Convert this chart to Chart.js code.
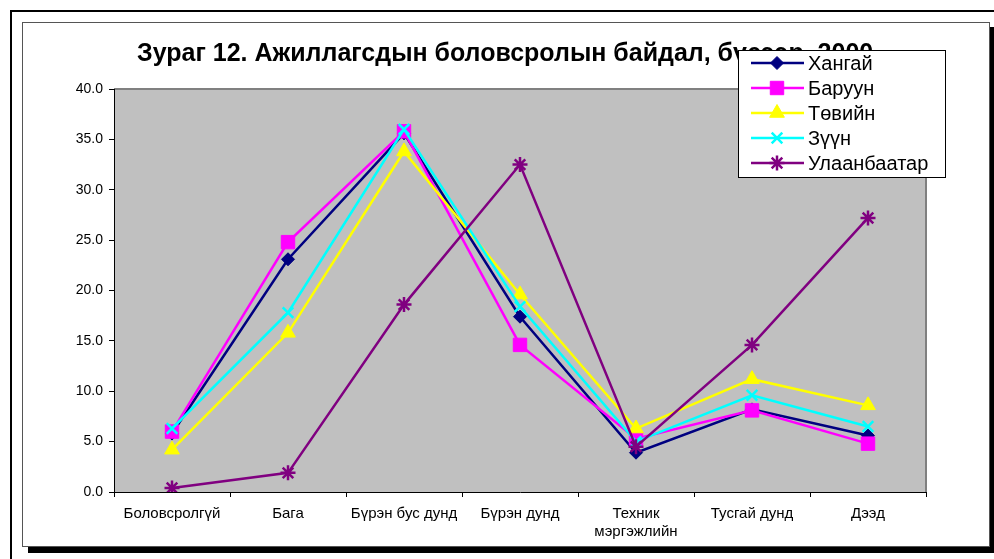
<!DOCTYPE html>
<html>
<head>
<meta charset="utf-8">
<script src="https://cdn.jsdelivr.net/npm/chart.js@4.4.1/dist/chart.umd.min.js"></script>
<style>
html,body{margin:0;padding:0;background:#fff;}
#wrap{width:994px;height:559px;position:relative;}
</style>
</head>
<body>
<div id="wrap"><canvas id="c" width="994" height="559"></canvas></div>
<script>
const titleText = "Зураг 12. Ажиллагсдын боловсролын байдал, бүсээр, 2000";
const categories = ["Боловсролгүй", "Бага", "Бүрэн бус дунд", "Бүрэн дунд", ["Техник", "мэргэжлийн"], "Тусгай дунд", "Дээд"];
const seriesNames = ["Хангай", "Баруун", "Төвийн", "Зүүн", "Улаанбаатар"];
const khangai = [5.8, 23.1, 35.6, 17.4, 3.9, 8.2, 5.6];
const baruun = [6.0, 24.8, 35.8, 14.6, 5.3, 8.1, 4.8];
const tuviin = [4.2, 15.8, 33.8, 19.6, 6.3, 11.2, 8.6];
const zuun = [6.3, 17.8, 36.0, 18.4, 5.0, 9.6, 6.5];
const ulaanbaatar = [0.4, 1.9, 18.6, 32.5, 4.5, 14.6, 27.2];
const yTicks = {min: 0, max: 40, step: 5};

const FONT = "'Liberation Sans', Arial, sans-serif";
const colors = ["#000080", "#FF00FF", "#FFFF00", "#00FFFF", "#800080"];
const styles = ["rectRot", "rect", "triangle", "crossRot", "star"];
const radii = [6.5, 9.5, 8.5, 7.5, 7.5];
const values = [khangai, baruun, tuviin, zuun, ulaanbaatar];

const datasets = seriesNames.map((n, i) => ({
  label: n,
  data: values[i],
  borderColor: colors[i],
  backgroundColor: colors[i],
  borderWidth: 2.5,
  pointStyle: styles[i],
  pointRadius: radii[i],
  pointHoverRadius: radii[i],
  pointBackgroundColor: colors[i],
  pointBorderColor: colors[i],
  pointBorderWidth: (styles[i] === 'crossRot' || styles[i] === 'star') ? 2.5 : 1,
  tension: 0,
  fill: false,
  order: seriesNames.length - i
}));

const framePlugin = {
  id: 'frame',
  beforeDraw(chart) {
    const ctx = chart.ctx;
    const a = chart.chartArea;
    ctx.save();
    ctx.fillStyle = '#fff';
    ctx.fillRect(0, 0, chart.width, chart.height);
    ctx.fillStyle = '#000';
    ctx.fillRect(10, 10, 984, 2);
    ctx.fillRect(10, 10, 2, 549);
    ctx.fillRect(990, 27, 4, 526);
    ctx.fillRect(28, 547, 966, 6);
    ctx.fillStyle = '#fff';
    ctx.fillRect(22, 22, 968, 525);
    ctx.strokeStyle = '#555';
    ctx.lineWidth = 1;
    ctx.strokeRect(22.5, 22.5, 967, 524);
    ctx.fillStyle = '#C0C0C0';
    ctx.fillRect(a.left, a.top, a.right - a.left, a.bottom - a.top);
    ctx.strokeStyle = '#808080';
    ctx.lineWidth = 2;
    ctx.beginPath();
    ctx.moveTo(a.left, a.top);
    ctx.lineTo(a.right, a.top);
    ctx.lineTo(a.right, a.bottom);
    ctx.stroke();
    ctx.fillStyle = '#000';
    ctx.font = "bold 25px " + FONT;
    ctx.textAlign = 'left';
    ctx.textBaseline = 'alphabetic';
    ctx.fillText(titleText, 137, 61);
    ctx.restore();
  },
  afterDraw(chart) {
    const ctx = chart.ctx;
    ctx.save();
    const bx = 738, by = 50, bw = 207, bh = 127;
    ctx.fillStyle = '#fff';
    ctx.fillRect(bx, by, bw, bh);
    ctx.strokeStyle = '#000';
    ctx.lineWidth = 1;
    ctx.strokeRect(bx + 0.5, by + 0.5, bw, bh);
    chart.data.datasets.forEach((ds, i) => {
      const y = 63 + i * 25;
      ctx.strokeStyle = ds.borderColor;
      ctx.lineWidth = 2.5;
      ctx.beginPath();
      ctx.moveTo(751, y);
      ctx.lineTo(804, y);
      ctx.stroke();
      ctx.fillStyle = ds.pointBackgroundColor;
      ctx.strokeStyle = ds.pointBorderColor;
      ctx.lineWidth = ds.pointBorderWidth;
      Chart.helpers.drawPoint(ctx, {pointStyle: ds.pointStyle, radius: ds.pointRadius, rotation: 0, borderWidth: ds.pointBorderWidth}, 777, y);
      ctx.fillStyle = '#000';
      ctx.font = "20px " + FONT;
      ctx.textAlign = 'left';
      ctx.textBaseline = 'middle';
      ctx.fillText(ds.label, 808, y + 1);
    });
    ctx.restore();
  }
};

new Chart(document.getElementById('c'), {
  type: 'line',
  data: {labels: categories, datasets: datasets},
  options: {
    responsive: false,
    animation: false,
    devicePixelRatio: 1,
    layout: {padding: {left: 0, top: 89, right: 68, bottom: 0}},
    plugins: {legend: {display: false}, title: {display: false}, tooltip: {enabled: false}},
    scales: {
      x: {
        type: 'category',
        offset: true,
        afterFit(s) { s.height = 67; },
        grid: {display: true, offset: true, drawOnChartArea: false, drawTicks: true, tickLength: 5, tickColor: '#000', tickWidth: 1},
        border: {display: true, color: '#000', width: 1},
        ticks: {color: '#000', font: {family: FONT, size: 15, lineHeight: 1.2}, padding: 8, maxRotation: 0, autoSkip: false}
      },
      y: {
        min: yTicks.min, max: yTicks.max,
        afterFit(s) { s.width = 114; },
        grid: {display: true, drawOnChartArea: false, drawTicks: true, tickLength: 5, tickColor: '#000', tickWidth: 1},
        border: {display: true, color: '#000', width: 1},
        ticks: {stepSize: yTicks.step, color: '#000', font: {family: FONT, size: 14}, padding: 6,
          callback: v => Number(v).toFixed(1)}
      }
    }
  },
  plugins: [framePlugin]
});
</script>
</body>
</html>
